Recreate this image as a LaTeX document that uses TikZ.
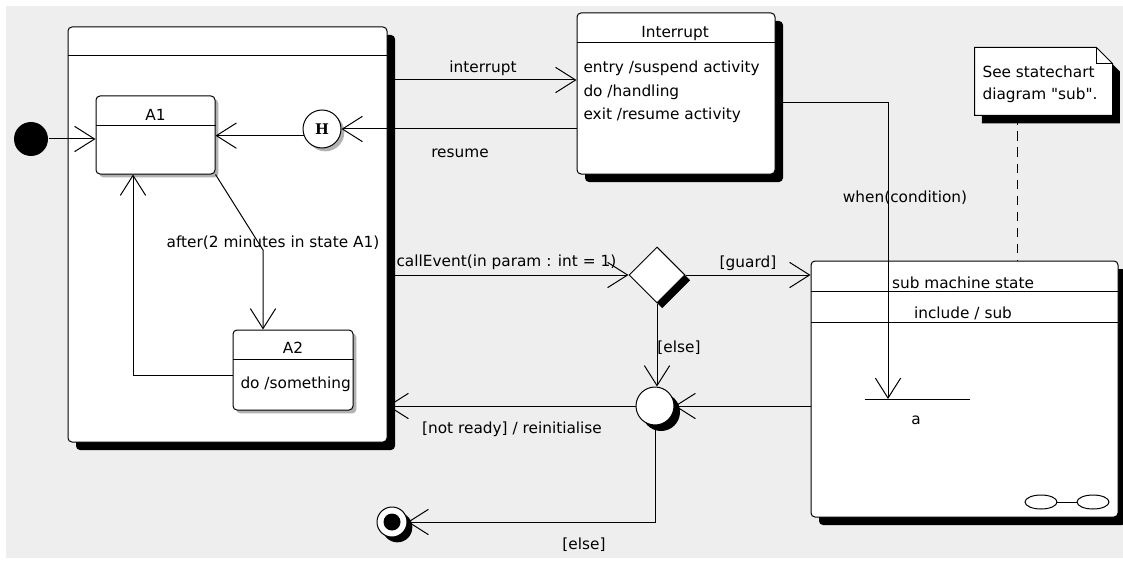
\documentclass[tikz,border=0pt]{standalone}
\usepackage{fontspec}
\setmainfont{DejaVu Sans}[Ligatures=TeXOff]
\newfontfamily\hfont{DejaVu Serif}
\usetikzlibrary{arrows.meta,shapes.geometric,shadows}
\definecolor{bg}{RGB}{238,238,238}
\begin{document}
\begin{tikzpicture}[x=0.75pt,y=-0.75pt,
  every node/.style={font=\fontsize{11.5pt}{13pt}\selectfont},
  line width=0.75pt,
  arr/.style={-{Straight Barb[length=15pt,width=19pt]}},
  statebox/.style={draw, fill=white, rounded corners=3pt, inner sep=0pt},
  blackshadow/.style={drop shadow={shadow xshift=6pt, shadow yshift=-6pt, fill=black, opacity=1}},
  smallshadow/.style={drop shadow={shadow xshift=4pt, shadow yshift=-4pt, fill=black, opacity=1}},
  greyshadow/.style={drop shadow={shadow xshift=2.5pt, shadow yshift=-2.5pt, fill=black!30, opacity=1}},
  lbl/.style={inner sep=0pt},
]
\useasboundingbox (0,0) rectangle (1123,563);
\fill[white] (0,0) rectangle (1123,563);
\fill[bg] (6,6) rectangle (1123,558);

% composite state
\node[statebox, blackshadow, minimum width=319*0.75pt, minimum height=415*0.75pt] (outer) at (227.5,234.5) {};
\draw (outer.west |- 0,56) -- (outer.east |- 0,56);

% A1
\node[statebox, greyshadow, minimum width=119*0.75pt, minimum height=78*0.75pt] (A1) at (155.5,135) {};
\draw (A1.west |- 0,126) -- (A1.east |- 0,126);
\node[lbl] (A1t) at (155.5,115) {A1};

% A2
\node[statebox, greyshadow, minimum width=120*0.75pt, minimum height=80*0.75pt] (A2) at (293,370) {};
\draw (A2.west |- 0,359) -- (A2.east |- 0,359);
\node[lbl] (A2t) at (293,348) {A2};
\node[lbl, anchor=west] (A2b) at (240,384) {do /something};

% initial
\node[circle, fill=black, minimum size=34*0.75pt, inner sep=0pt] (init) at (31,139) {};

% history
\node[circle, draw, fill=white, greyshadow, minimum size=38*0.75pt, inner sep=0pt,
      font=\hfont\bfseries\fontsize{11pt}{11pt}\selectfont] (H) at (322,129) {H};

% Interrupt
\node[statebox, blackshadow, minimum width=198*0.75pt, minimum height=161*0.75pt] (Int) at (676,93.5) {};
\draw (Int.west |- 0,43) -- (Int.east |- 0,43);
\node[lbl] (Intt) at (675,34) {Interrupt};
\node[lbl, anchor=west] (Int1) at (583,68) {entry /suspend activity};
\node[lbl, anchor=west] (Int2) at (583,92) {do /handling};
\node[lbl, anchor=west] (Int3) at (583,115) {exit /resume activity};

% sub machine state
\node[statebox, blackshadow, minimum width=307*0.75pt, minimum height=256*0.75pt] (Sub) at (964.5,389) {};
\draw (Sub.west |- 0,291) -- (Sub.east |- 0,291);
\draw (Sub.west |- 0,322) -- (Sub.east |- 0,322);
\node[lbl] (Subt) at (963,283) {sub machine state};
\node[lbl] (Subi) at (963,313) {include / sub};
\node[minimum width=104*0.75pt, minimum height=0pt, inner sep=0pt] (abar) at (917,399) {};
\draw (abar.west) -- (abar.east);
\coordinate (aend) at (888,399);
\node[lbl] (alab) at (916,420) {a};
\draw (1041,502) ellipse [x radius=16, y radius=7];
\draw (1057,502) -- (1077,502);
\draw (1093,502) ellipse [x radius=16, y radius=7];

% note
\node[minimum width=137*0.75pt, minimum height=67*0.75pt, inner sep=0pt] (note) at (1043.5,81.5) {};
\begin{scope}[transform canvas={xshift=5.5pt, yshift=-6pt}]
\fill[black] (note.north west) -- ([xshift=-12pt]note.north east) -- ([yshift=-12pt]note.north east) -- (note.south east) -- (note.south west) -- cycle;
\end{scope}
\draw[fill=white] (note.north west) -- ([xshift=-12pt]note.north east) -- ([yshift=-12pt]note.north east) -- (note.south east) -- (note.south west) -- cycle;
\draw ([xshift=-12pt]note.north east) |- ([yshift=-12pt]note.north east);
\node[lbl, anchor=west] (n1) at (982,72) {See statechart};
\node[lbl, anchor=west] (n2) at (982,95) {diagram "sub".};
\draw[dashed, dash pattern=on 7pt off 5pt] (note.south -| 1017,0) -- (Sub.north -| 1017,0);

% choice, junction, final
\node[diamond, draw, fill=white, drop shadow={shadow xshift=4pt, shadow yshift=-4pt, fill=black, opacity=1},
      minimum width=56*0.75pt, minimum height=56*0.75pt, inner sep=0pt] (D) at (657,275) {};
\node[circle, draw, fill=white, drop shadow={shadow xshift=4.5pt, shadow yshift=-4.5pt, fill=black, opacity=1},
      minimum size=38*0.75pt, inner sep=0pt] (J) at (655,406) {};
\node[circle, draw, fill=white, smallshadow, minimum size=30*0.75pt, inner sep=0pt] (F) at (392,522) {};
\fill (F.center) circle (8.5);

% connectors
\draw[arr] (init.east) -- (A1.west |- init.east);
\draw[arr] (H.200) -- (A1.east |- H.200);
\draw[arr] (Int.west |- H.east) -- (H.east);
\draw[arr] (outer.east |- 0,80) -- (Int.west |- 0,80);
\draw[arr] (Int.east |- 0,103) -| (aend);
\draw[arr] (A1.south east) -- (263,250) -- (A2.north -| 263,0);
\draw[arr] (A2.west |- 0,375) -| (133,0 |- A1.south);
\draw[arr] (outer.east |- D.west) -- (D.west);
\draw[arr] (D.east) -- (Sub.west |- D.east);
\draw[arr] (D.south) -- (J.north -| D.south);
\draw[arr] (Sub.west |- J.east) -- (J.east);
\draw[arr] (J.west) -- (outer.east |- J.west);
\draw[arr] (J.south) |- (F.east);

% labels
\node[lbl] (l1) at (483,68) {interrupt};
\node[lbl] (l2) at (460,153) {resume};
\node[lbl] (l3) at (905,198) {when(condition)};
\node[lbl, anchor=west] (l4) at (396,262) {callEvent(in param : int = 1)};
\node[lbl] (l5) at (748,263) {[guard]};
\node[lbl] (l6) at (679,348) {[else]};
\node[lbl] (l7) at (512,429) {[not ready] / reinitialise};
\node[lbl] (l8) at (584,545) {[else]};
\node[lbl] (l9) at (273,243) {after(2 minutes in state A1)};
\end{tikzpicture}
\end{document}
